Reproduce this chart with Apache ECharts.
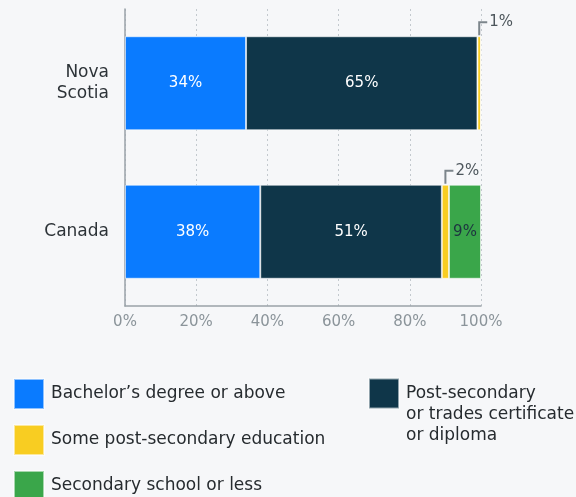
<!DOCTYPE html>
<html>
<head>
<meta charset="utf-8">
<script src="https://cdn.jsdelivr.net/npm/echarts@6/dist/echarts.min.js"></script>
<style>
  html, body { margin: 0; padding: 0; background: #f6f7f9; }
  #chart { width: 576px; height: 497px; }
</style>
</head>
<body>
<div id="chart"></div>
<script>
// Highest level of education, share of population
const regions = ['Nova\nScotia', 'Canada'];
const bachelor = [34, 38];
const postSecondary = [65, 51];
const somePostSecondary = [1, 2];
const secondaryOrLess = [0, 9];
const xTicks = [0, 20, 40, 60, 80, 100];

const NAMES = {
  bachelor: 'Bachelor\u2019s degree or above',
  post: 'Post-secondary\nor trades certificate\nor diploma',
  some: 'Some post-secondary education',
  secondary: 'Secondary school or less'
};
const COLORS = {
  bachelor: '#0a7bff',
  post: '#0f3649',
  some: '#f8cd22',
  secondary: '#3aa64a'
};
const FONT = 'DejaVu Sans';
const BAR_RATIO = 0.633;

// small segments get a leader-line callout above the bar instead of an inside label
const callouts = [];
regions.forEach((r, i) => {
  const start = bachelor[i] + postSecondary[i];
  if (somePostSecondary[i] > 0 && somePostSecondary[i] < 5) {
    callouts.push([start, i, start + somePostSecondary[i], somePostSecondary[i]]);
  }
});

function barSeries(key, data, labelColor) {
  return {
    name: NAMES[key],
    type: 'bar',
    stack: 'total',
    barWidth: (BAR_RATIO * 100) + '%',
    data: data,
    itemStyle: { color: COLORS[key], borderColor: 'rgba(255,255,255,0.55)', borderWidth: 1 },
    label: {
      show: true,
      position: 'inside',
      color: labelColor,
      fontFamily: FONT,
      fontSize: 15,
      formatter: p => (p.value >= 5 ? p.value + '%' : '')
    },
    emphasis: { disabled: true }
  };
}

// one legend block per entry so each can be placed on its own row / column
function legendItem(name, left, top, extra) {
  return Object.assign({
    orient: 'vertical',
    left: left,
    top: top,
    padding: 0,
    itemWidth: 30,
    itemHeight: 30,
    icon: 'rect',
    selectedMode: false,
    data: [name],
    textStyle: { color: '#262b2f', fontFamily: FONT, fontSize: 17, padding: [0, 0, 0, 2] }
  }, extra || {});
}

const chart = echarts.init(document.getElementById('chart'));
chart.setOption({
  backgroundColor: '#f6f7f9',
  animation: false,
  textStyle: { fontFamily: FONT },
  grid: { left: 125, right: 95, top: 9, height: 297 },
  xAxis: {
    type: 'value',
    min: xTicks[0],
    max: xTicks[xTicks.length - 1],
    interval: xTicks[1] - xTicks[0],
    axisLine: { show: true, lineStyle: { color: '#9aa2a8', width: 1.5 } },
    axisTick: { show: false },
    axisLabel: { color: '#8b949a', fontSize: 15, margin: 9, formatter: '{value}%' },
    splitLine: { show: true, lineStyle: { color: '#c3c9ce', type: [2, 3], width: 1 } }
  },
  yAxis: {
    type: 'category',
    inverse: true,
    data: regions,
    axisLine: { show: true, lineStyle: { color: '#9aa2a8', width: 1.5 } },
    axisTick: { show: false },
    axisLabel: { color: '#2d3338', fontSize: 17, lineHeight: 21, margin: 16 }
  },
  legend: [
    legendItem(NAMES.bachelor, 13, 378),
    legendItem(NAMES.some, 13, 424),
    legendItem(NAMES.secondary, 13, 470),
    legendItem(NAMES.post, 368, 341, {
      // two blank lines keep the first text line level with the swatch
      formatter: n => '\n\n' + n,
      textStyle: { color: '#262b2f', fontFamily: FONT, fontSize: 17, lineHeight: 21, padding: [0, 0, 0, 2] }
    })
  ],
  series: [
    barSeries('bachelor', bachelor, '#ffffff'),
    barSeries('post', postSecondary, '#ffffff'),
    barSeries('some', somePostSecondary, '#1d3340'),
    barSeries('secondary', secondaryOrLess, '#1d3340'),
    {
      name: 'callouts',
      type: 'custom',
      data: callouts,
      encode: { x: [0, 2], y: 1 },
      z: 5,
      silent: true,
      renderItem: function (params, api) {
        const xs = api.value(0), cat = api.value(1), xe = api.value(2), v = api.value(3);
        const c = api.coord([(xs + xe) / 2, cat]);
        const band = api.size([0, 1])[1];
        const top = c[1] - band * BAR_RATIO / 2;
        const yLine = top - 14;
        return {
          type: 'group',
          children: [
            {
              type: 'polyline',
              shape: { points: [[c[0], top - 1], [c[0], yLine], [c[0] + 8, yLine]] },
              style: { stroke: '#7c858b', lineWidth: 2, fill: null }
            },
            {
              type: 'text',
              style: {
                x: c[0] + 10, y: yLine, text: v + '%',
                verticalAlign: 'middle', fill: '#4d565c',
                fontFamily: FONT, fontSize: 15
              }
            }
          ]
        };
      }
    }
  ]
});
</script>
</body>
</html>
